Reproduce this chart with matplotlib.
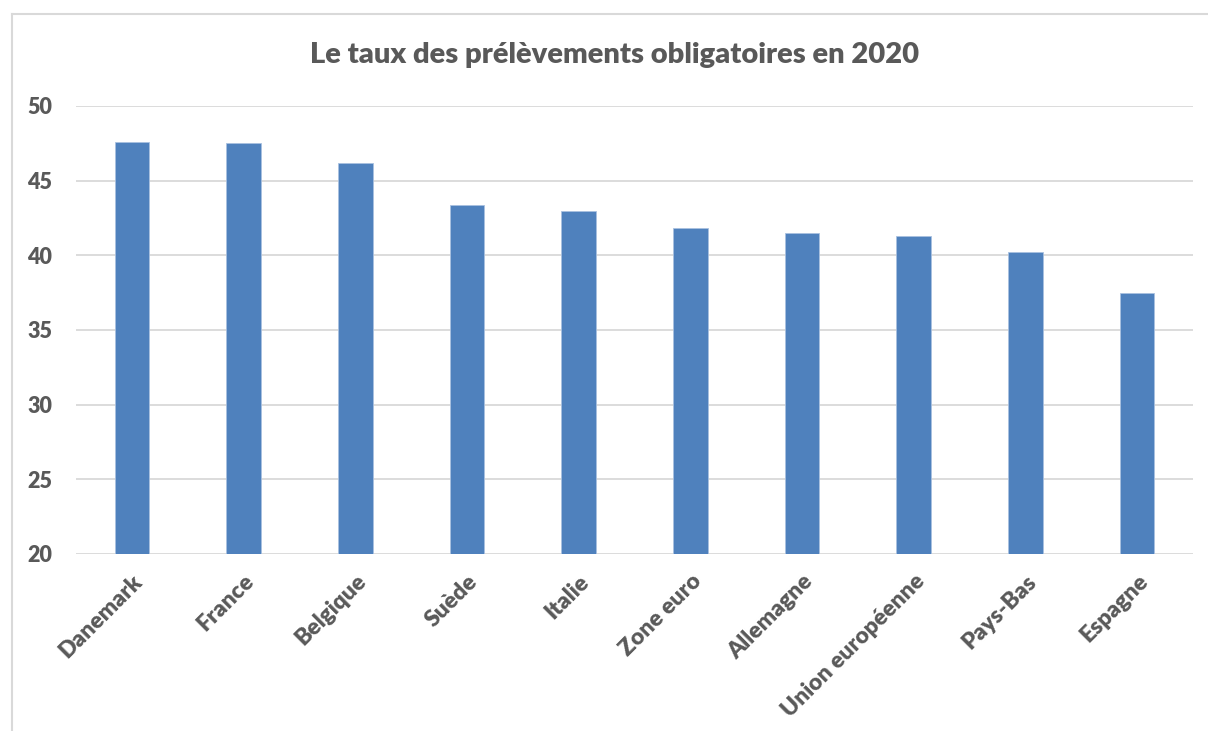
import matplotlib.pyplot as plt
import numpy as np

plt.rcParams["font.family"] = ["Lato", "DejaVu Sans"]

pays = ["Danemark", "France", "Belgique", "Suède", "Italie", "Zone euro",
        "Allemagne", "Union européenne", "Pays-Bas", "Espagne"]
taux = [47.6, 47.5, 46.2, 43.4, 43.0, 41.8, 41.5, 41.3, 40.2, 37.5]
yticks = [20, 25, 30, 35, 40, 45, 50]

TEXT = "#595959"
GRID = "#D9D9D9"

fig = plt.figure(figsize=(12.08, 7.31), dpi=100)
W, H = 1208, 731
ax = fig.add_axes([76 / W, 1 - 554 / H, (1193 - 76) / W, (554 - 106) / H])

x = np.arange(len(pays))
ax.bar(x, taux, width=0.31, color="#4F81BD", edgecolor="#A9C1E0",
       linewidth=0.6, zorder=3)

ax.set_xlim(-0.5, len(pays) - 0.5)
ax.set_ylim(20, 50)
ax.set_yticks(yticks)
ax.set_yticklabels([str(v) for v in yticks], fontsize=15.5, fontweight="heavy", color=TEXT)
ax.set_xticks(x)
ax.set_xticklabels(pays, rotation=45, ha="right", rotation_mode="anchor",
                   fontsize=16.5, fontweight="heavy", color=TEXT)
ax.tick_params(axis="both", length=0)
ax.tick_params(axis="y", pad=17)
ax.tick_params(axis="x", pad=12)
ax.grid(axis="y", color=GRID, linewidth=1.3, zorder=0)
for s in ax.spines.values():
    s.set_visible(False)

fig.text(615 / W, 1 - 55 / H, "Le taux des prélèvements obligatoires en 2020",
         ha="center", va="center", fontsize=21, fontweight="heavy", color=TEXT)

# cadre du graphique (coupé à droite et en bas)
fig.add_artist(plt.Line2D([12 / W, 12 / W], [0, 1 - 14 / H], color=GRID, linewidth=1.5,
                          transform=fig.transFigure))
fig.add_artist(plt.Line2D([12 / W, 1], [1 - 14 / H, 1 - 14 / H], color=GRID, linewidth=1.5,
                          transform=fig.transFigure))

fig.savefig("out.png", dpi=100, facecolor="white")
